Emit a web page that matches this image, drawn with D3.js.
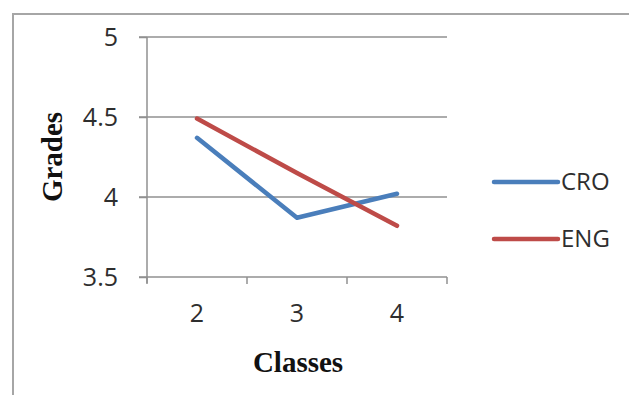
<!DOCTYPE html>
<html><head><meta charset="utf-8">
<script src="https://cdn.jsdelivr.net/npm/d3@7"></script>
<style>body{margin:0;background:#fff}svg{display:block}</style>
</head><body>
<svg id="c" width="629" height="395"></svg>
<script>
const classes = ["2", "3", "4"];
const croGrades = [4.37, 3.87, 4.02];
const engGrades = [4.49, 4.15, 3.82];
const yTicks = [3.5, 4, 4.5, 5];
const seriesNames = ["CRO", "ENG"];
const seriesColors = ["#4a7ebb", "#be4b48"];

const svg = d3.select("#c");
const x = d3.scaleBand().domain(classes).range([147, 447]);
const y = d3.scaleLinear().domain([3.5, 5]).range([277, 37]);

// outer frame (clipped at right and bottom)
svg.append("rect").attr("x", 13).attr("y", 14).attr("width", 700).attr("height", 500)
  .attr("fill", "none").attr("stroke", "#a6a6a6").attr("stroke-width", 2);

// gridlines
svg.append("g").selectAll("line").data(yTicks.filter(d => d > 3.5)).join("line")
  .attr("x1", 139).attr("x2", 447).attr("y1", d => y(d)).attr("y2", d => y(d))
  .attr("stroke", "#909090").attr("stroke-width", 1.5);

// y axis
const yAxis = d3.axisLeft(y).tickValues(yTicks).tickSize(8).tickPadding(21).tickFormat(d3.format("~g"));
const gy = svg.append("g").attr("transform", "translate(147,0)").call(yAxis);
gy.select(".domain").attr("stroke", "#909090").attr("stroke-width", 1.5).attr("d", "M0,37V283");
gy.selectAll(".tick line").attr("stroke", "#909090").attr("stroke-width", 1.5);
gy.selectAll("text").attr("font-family", "Open Sans").attr("font-size", 25).attr("fill", "#2e2e2e");

// x axis
const xAxis = d3.axisBottom(x).tickSize(0).tickPadding(27);
const gx = svg.append("g").attr("transform", "translate(0,277)").call(xAxis);
gx.select(".domain").attr("stroke", "#909090").attr("stroke-width", 1.5).attr("d", "M139,0H447");
gx.selectAll("text").attr("font-family", "Open Sans").attr("font-size", 25).attr("fill", "#2e2e2e");
// x tick marks at band boundaries
const bounds = [147].concat(classes.map(c => x(c) + x.bandwidth()));
svg.append("g").selectAll("line").data(bounds).join("line")
  .attr("x1", d => d).attr("x2", d => d).attr("y1", 277).attr("y2", 284)
  .attr("stroke", "#909090").attr("stroke-width", 1.5);

// lines
const line = d3.line().x((d, i) => x(classes[i]) + x.bandwidth() / 2).y(d => y(d));
[croGrades, engGrades].forEach((s, i) => {
  svg.append("path").datum(s).attr("d", line).attr("fill", "none")
    .attr("stroke", seriesColors[i]).attr("stroke-width", 4.5)
    .attr("stroke-linejoin", "round").attr("stroke-linecap", "round");
});

// axis titles
svg.append("text").attr("x", 298).attr("y", 372).attr("text-anchor", "middle")
  .attr("font-family", "Liberation Serif").attr("font-weight", "bold").attr("font-size", 29)
  .attr("fill", "#111").text("Classes");
svg.append("text").attr("transform", "translate(62,157) rotate(-90)").attr("text-anchor", "middle")
  .attr("font-family", "Liberation Serif").attr("font-weight", "bold").attr("font-size", 29)
  .attr("fill", "#111").text("Grades");

// legend
const lg = svg.append("g");
seriesNames.forEach((n, i) => {
  const yy = 182 + i * 57;
  lg.append("line").attr("x1", 494).attr("x2", 558).attr("y1", yy).attr("y2", yy)
    .attr("stroke", seriesColors[i]).attr("stroke-width", 4.5).attr("stroke-linecap", "round");
  lg.append("text").attr("x", 561).attr("y", yy).attr("dy", "0.35em")
    .attr("font-family", "Open Sans").attr("font-size", 24).attr("fill", "#2e2e2e").text(n);
});
</script>
</body></html>
